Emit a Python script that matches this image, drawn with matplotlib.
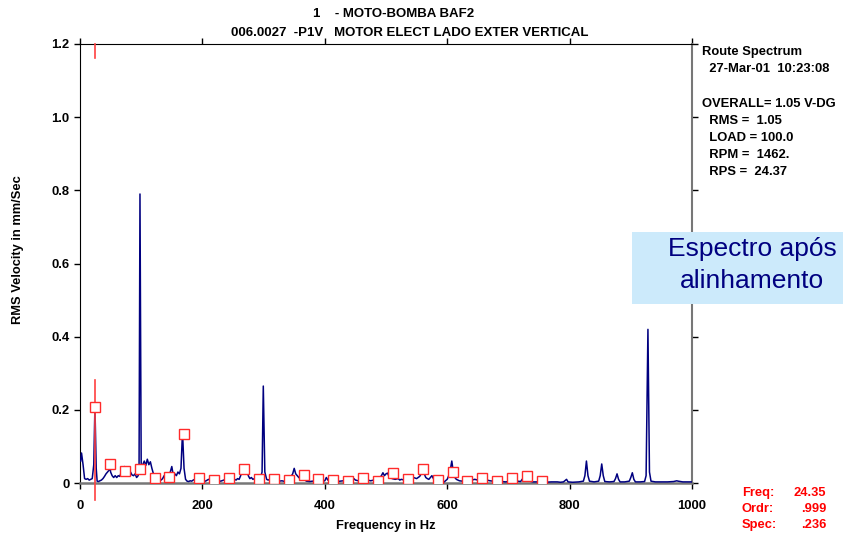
import matplotlib
matplotlib.use('Agg')
import matplotlib.pyplot as plt
from matplotlib.patches import Rectangle
import numpy as np

plt.rcParams['font.family'] = ['Liberation Sans', 'DejaVu Sans']

################ datos del espectro ##########
freq = [1, 2.5, 5, 7.5, 10, 12.5, 15, 17.5, 20, 22.5, 24.4, 26.5, 28, 30, 32.5, 35, 37.5,
        40, 42.5, 45, 47.5, 48.7, 50, 52.5, 55, 57.5, 60, 62.5, 65, 67.5, 70, 72.5, 75,
        77.5, 80, 82.5, 85, 87.5, 90, 92.5, 95, 96.5, 98, 100, 102.5, 105, 107.5, 110,
        112.5, 115, 117.5, 120, 122.5, 125, 127.5, 130, 132.5, 135, 137.5, 140, 142.5,
        145, 147.5, 150, 152.5, 155, 157.5, 160, 162.5, 165, 167.5, 170, 172.5, 175,
        177.5, 180, 182.5, 185, 187.5, 190, 192.5, 195, 197.5,
        200, 205, 210, 215, 220, 225, 230, 235, 240, 242.5, 245, 247.5, 250, 252.5, 255,
        257.5, 260, 262.5, 265, 267.5, 270, 272.5, 275, 277.5, 280, 282.5, 285, 287.5,
        290, 292.5, 295, 297.5, 299.5, 302, 305, 307.5, 310, 312.5, 315, 317.5, 320,
        322.5, 325, 330, 335, 340, 342.5, 345, 347.5, 350, 352.5, 355, 357.5, 360, 362.5,
        365, 367.5, 370, 375, 380, 385, 390, 395, 400, 402.5, 405, 410, 415, 420, 425,
        430, 435, 440, 445, 447.5, 450, 455, 460, 465, 467.5, 470, 475, 480, 485, 487.5,
        490, 492.5, 495, 497.5, 500, 502.5, 505, 507.5, 510, 515, 520, 522.5, 525, 530,
        535, 540, 545, 550, 555, 557.5, 560, 562.5, 565, 567.5, 570, 572.5, 575, 577.5,
        580, 585, 590, 595, 600, 602.5, 605, 607.5, 610, 612.5, 615, 620, 625, 630, 635,
        640, 645, 650, 655, 660, 662.5, 665, 670, 675, 680, 685, 690, 695, 700, 705, 710,
        715, 720, 722.5, 725, 727.5, 730, 732.5, 735, 740, 750, 760, 770, 780, 785, 790,
        795, 797.5, 805, 815, 822.5, 825, 827.5, 830, 832.5, 840, 847.5, 850, 852.5, 855,
        857.5, 865, 872.5, 875, 877.5, 880, 882.5, 890, 897.5, 900, 902.5, 905, 907.5,
        915, 922.5, 925, 928, 930.5, 933, 940, 950, 960, 970, 975, 977.5, 985, 995, 1000]

amp = [0.06, 0.082, 0.05, 0.012, 0.01, 0.012, 0.008, 0.01, 0.012, 0.05, 0.21, 0.04, 0.005,
       0.004, 0.006, 0.008, 0.012, 0.018, 0.025, 0.03, 0.035, 0.052, 0.03, 0.02, 0.015,
       0.02, 0.015, 0.02, 0.018, 0.03, 0.025, 0.045, 0.03, 0.025, 0.02, 0.03, 0.022, 0.02,
       0.025, 0.015, 0.02, 0.04, 0.79, 0.04, 0.05, 0.06, 0.048, 0.065, 0.05, 0.058, 0.04, 0.025,
       0.02, 0.01, 0.025, 0.012, 0.008, 0.012, 0.02, 0.015, 0.02, 0.018, 0.03, 0.045,
       0.02, 0.025, 0.02, 0.03, 0.025, 0.04, 0.14, 0.04, 0.01, 0.005, 0.004, 0.006, 0.005,
       0.008, 0.01, 0.012, 0.015, 0.01, 0.006,
       0.008, 0.005, 0.01, 0.006, 0.004, 0.006, 0.005, 0.008, 0.012, 0.02, 0.012, 0.01,
       0.015, 0.01, 0.008, 0.012, 0.01, 0.02, 0.035, 0.045, 0.03, 0.04, 0.02, 0.012,
       0.015, 0.01, 0.012, 0.008, 0.01, 0.01, 0.015, 0.03, 0.265, 0.03, 0.01, 0.008,
       0.01, 0.012, 0.018, 0.015, 0.01, 0.008, 0.005, 0.006, 0.004, 0.01, 0.015, 0.018,
       0.025, 0.04, 0.025, 0.02, 0.015, 0.012, 0.01, 0.012, 0.008, 0.005, 0.004, 0.005,
       0.006, 0.004, 0.005, 0.006, 0.015, 0.008, 0.005, 0.006, 0.004, 0.005, 0.006,
       0.004, 0.006, 0.01, 0.012, 0.008, 0.006, 0.005, 0.012, 0.01, 0.008, 0.006, 0.008,
       0.012, 0.01, 0.015, 0.02, 0.028, 0.02, 0.025, 0.027, 0.018, 0.015, 0.012, 0.01,
       0.012, 0.008, 0.01, 0.008, 0.012, 0.01, 0.015, 0.012, 0.018, 0.025, 0.032, 0.025,
       0.015, 0.012, 0.01, 0.015, 0.02, 0.012, 0.005, 0.003, 0.004, 0.003, 0.01, 0.02,
       0.035, 0.06, 0.03, 0.015, 0.01, 0.006, 0.005, 0.006, 0.005, 0.008, 0.01, 0.008,
       0.006, 0.01, 0.015, 0.008, 0.006, 0.005, 0.004, 0.005, 0.004, 0.003, 0.004, 0.003,
       0.004, 0.005, 0.004, 0.01, 0.015, 0.025, 0.03, 0.015, 0.005, 0.003, 0.003, 0.002,
       0.003, 0.003, 0.002, 0.003, 0.01, 0.003, 0.002, 0.003, 0.005, 0.02, 0.06, 0.02,
       0.005, 0.003, 0.005, 0.02, 0.052, 0.02, 0.004, 0.003, 0.004, 0.012, 0.025, 0.01,
       0.003, 0.003, 0.005, 0.015, 0.028, 0.01, 0.003, 0.003, 0.004, 0.02, 0.42, 0.03,
       0.005, 0.003, 0.003, 0.003, 0.004, 0.006, 0.005, 0.003, 0.003, 0.003]

# marcadores de armonicos (n x 24.35 Hz)
run_speed = 24.35
harm_amp = [0.207, 0.052, 0.033, 0.038, 0.014, 0.016, 0.134, 0.014, 0.008, 0.013,
            0.038, 0.011, 0.011, 0.008, 0.021, 0.011, 0.008, 0.005, 0.014, 0.005,
            0.027, 0.011, 0.038, 0.008, 0.030, 0.005, 0.014, 0.005, 0.014, 0.019, 0.005]

title1 = '1    - MOTO-BOMBA BAF2'
title2 = '006.0027  -P1V   MOTOR ELECT LADO EXTER VERTICAL'
info_lines = ['Route Spectrum', '  27-Mar-01  10:23:08', '',
              'OVERALL= 1.05 V-DG', '  RMS =  1.05', '  LOAD = 100.0',
              '  RPM =  1462.', '  RPS =  24.37']
cursor_lab = ['Freq:', 'Ordr:', 'Spec:']
cursor_val = ['24.35', '.999', '.236']

W, H = 843, 536
fig = plt.figure(figsize=(W / 100, H / 100), dpi=100)
ax = fig.add_axes([80 / W, 1 - 483 / H, (692 - 80) / W, (483 - 44) / H])

ax.plot(freq, amp, color='#000080', lw=1.1, zorder=3)

harm_f = [run_speed * (i + 1) for i in range(len(harm_amp))]
ax.plot(harm_f, harm_amp, ls='none', marker='s', ms=6.5, mfc='white',
        mec='#ff2a2a', mew=1.0, zorder=5)

# cursor rojo
ax.plot([run_speed, run_speed], [1.2, 1.162], color='#ff4040', lw=1.2, zorder=4, clip_on=False)
ax.plot([run_speed, run_speed], [0.281, -0.046], color='#ff4040', lw=1.2, zorder=4, clip_on=False)

ax.set_xlim(0, 1000)
ax.set_ylim(0, 1.2)
ax.set_xticks([0, 200, 400, 600, 800, 1000])
ax.set_yticks([0, 0.2, 0.4, 0.6, 0.8, 1.0, 1.2])
ax.set_yticklabels(['0', '0.2', '0.4', '0.6', '0.8', '1.0', '1.2'])
ax.tick_params(axis='both', which='both', direction='out', length=4, width=1,
               labelsize=9.4, top=True, right=True, pad=3.5)
ax.tick_params(axis='x', pad=8)
for lab in ax.get_xticklabels() + ax.get_yticklabels():
    lab.set_fontweight('bold')

ax.spines['left'].set_color('black')
ax.spines['top'].set_color('black')
ax.spines['right'].set_color('#777777')
ax.spines['bottom'].set_color('#777777')
ax.spines['right'].set_linewidth(1.5)
ax.spines['bottom'].set_linewidth(1.8)

ax.set_xlabel('Frequency in Hz', fontsize=9.3, fontweight='bold', labelpad=6)
fig.text(18 / W, 1 - 250 / H, 'RMS Velocity in mm/Sec', rotation=90, fontsize=9.3,
         fontweight='bold', ha='center', va='center')

fig.text(394 / W, 1 - 14 / H, title1, fontsize=9.5, fontweight='bold', ha='center', va='center')
fig.text(410 / W, 1 - 33 / H, title2, fontsize=9.5, fontweight='bold', ha='center', va='center')

ys = 52
for t in info_lines:
    fig.text(702 / W, 1 - ys / H, t, fontsize=9.4, fontweight='bold', ha='left', va='center')
    ys += 17.2

for i in range(3):
    yy = 1 - (493 + 16 * i) / H
    fig.text(742 / W, yy, cursor_lab[i], fontsize=9.3, fontweight='bold', color='#ff0000',
             ha='left', va='center')
    fig.text(826 / W, yy, cursor_val[i], fontsize=9.3, fontweight='bold', color='#ff0000',
             ha='right', va='center')

# cuadro azul
fig.patches.append(Rectangle((632 / W, 1 - 304 / H), (843 - 632) / W, 72 / H,
                             transform=fig.transFigure, facecolor='#cceafb',
                             edgecolor='none', zorder=10))
fig.text(752 / W, 1 - 249 / H, 'Espectro após', fontsize=19, color='#000080',
         ha='center', va='center', zorder=11)
fig.text(752 / W, 1 - 281 / H, 'alinhamento', fontsize=19, color='#000080',
         ha='center', va='center', zorder=11)

plt.savefig('out.png', dpi=100)
